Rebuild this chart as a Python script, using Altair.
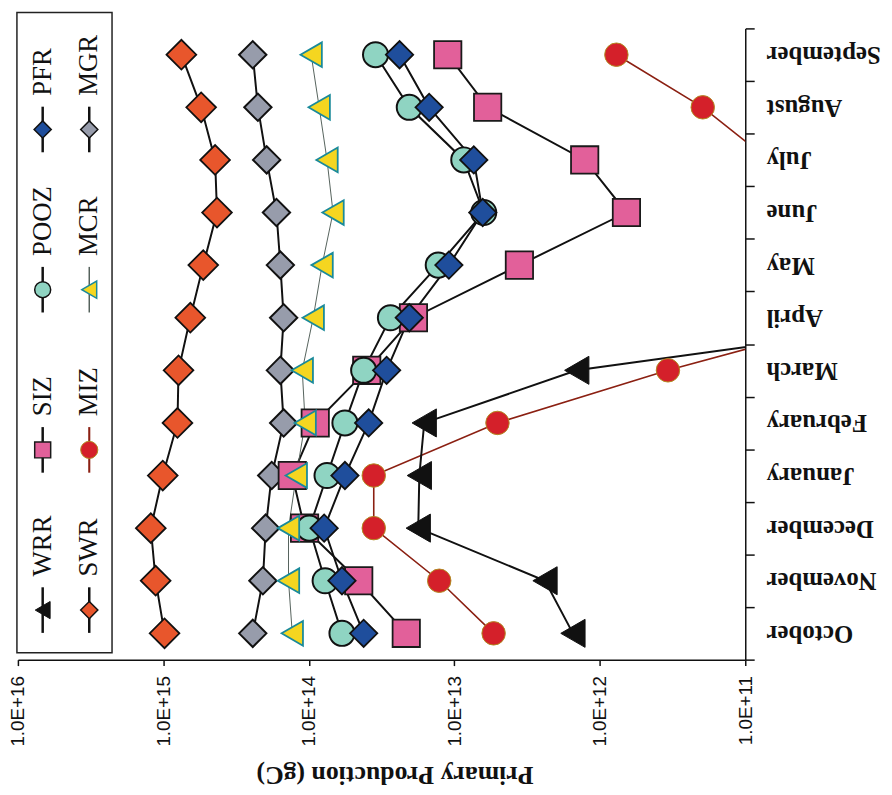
import altair as alt
import pandas as pd

months = ["October", "November", "December", "January", "February", "March",
          "April", "May", "June", "July", "August", "September"]

# Primary production (gC); None = not shown
WRR = [1.53e12, 2.38e12, 1.77e13, 1.74e13, 1.61e13, 1.44e12, 3.5e9, None, None, None, None, None]
SIZ = [2.14e13, 4.54e13, 1.07e14, 1.30e14, 9.04e13, 4.00e13, 1.91e13, 3.57e12, 6.56e11, 1.27e12, 5.90e12, 1.11e13]
POOZ = [5.92e13, 7.73e13, 9.93e13, 7.50e13, 5.65e13, 4.20e13, 2.75e13, 1.29e13, 6.28e12, 8.61e12, 2.04e13, 3.48e13]
PFR = [4.20e13, 5.92e13, 7.85e13, 5.65e13, 3.88e13, 2.92e13, 2.04e13, 1.09e13, 6.38e12, 7.35e12, 1.49e13, 2.38e13]
SWR = [9.82e14, 1.13e15, 1.22e15, 1.01e15, 8.00e14, 7.87e14, 6.53e14, 5.32e14, 4.28e14, 4.41e14, 5.50e14, 7.52e14]
MIZ = [5.37e12, 1.27e13, 3.58e13, 3.58e13, 5.05e12, 3.40e11, 1.6e10, None, None, 6.9e10, 1.96e11, 7.69e11]
MCR = [1.30e14, 1.38e14, 1.38e14, 1.22e14, 1.06e14, 1.11e14, 9.33e13, 8.11e13, 6.82e13, 7.50e13, 8.49e13, 9.64e13]
MGR = [2.43e14, 2.07e14, 1.98e14, 1.80e14, 1.49e14, 1.57e14, 1.49e14, 1.57e14, 1.67e14, 1.95e14, 2.24e14, 2.43e14]

series_names = ["SWR", "MGR", "SIZ", "MIZ", "WRR", "POOZ", "PFR", "MCR"]
series_values = {"WRR": WRR, "SIZ": SIZ, "POOZ": POOZ, "PFR": PFR,
                 "SWR": SWR, "MIZ": MIZ, "MCR": MCR, "MGR": MGR}

# legend layout: (column, row)
legend_col = {"WRR": 0, "SIZ": 0, "POOZ": 0, "PFR": 0,
              "SWR": 1, "MIZ": 1, "MCR": 1, "MGR": 1}
legend_row = {"WRR": 0, "SIZ": 1, "POOZ": 2, "PFR": 3,
              "SWR": 0, "MIZ": 1, "MCR": 2, "MGR": 3}

style = {
    # shape, size, fill, stroke, strokeWidth, line color, line width, legend size
    "WRR": ("triangle-left", 800, "#111111", "#111111", 1, "#111111", 2, 300),
    "SIZ": ("square", 760, "#e2609a", "#1a1a1a", 1.8, "#111111", 2, 260),
    "POOZ": ("circle", 640, "#8fd4c2", "#111111", 2, "#111111", 2, 260),
    "PFR": ("diamond", 760, "#1f4e9c", "#111111", 1.8, "#111111", 2, 300),
    "SWR": ("diamond", 900, "#e8562c", "#111111", 1.8, "#111111", 2, 300),
    "MIZ": ("circle", 560, "#d4202a", "#b08a20", 1, "#8b2012", 1.6, 300),
    "MCR": ("triangle-left", 620, "#f5d620", "#1a8a9a", 1.8, "#55625c", 1, 300),
    "MGR": ("diamond", 760, "#979cab", "#111111", 2, "#111111", 2, 300),
}

rows = []
for name in series_names:
    for i, (m, v) in enumerate(zip(months, series_values[name])):
        rows.append({"series": name, "month": m, "mi": i, "value": v})
df = pd.DataFrame(rows)

leg_df = pd.DataFrame({
    "series": list(legend_col.keys()),
    "col": [legend_col[k] for k in legend_col],
    "row": [legend_row[k] for k in legend_col],
})
legend_box = pd.DataFrame({"x0": [-0.553], "x1": [1.489], "y0": [-0.266], "y1": [3.730]})

x_enc = alt.X(
    "value:Q",
    scale=alt.Scale(type="log", domain=[1e11, 1e16], reverse=True, nice=False),
    axis=alt.Axis(
        values=[1e11, 1e12, 1e13, 1e14, 1e15, 1e16],
        labelExpr="'1.0E+' + round(log(datum.value) / LN10)",
        labelAngle=270, labelFont="Liberation Sans", labelFontSize=19,
        labelColor="#111111", labelPadding=10, tickSize=6, tickColor="#111111",
        domainColor="#111111", domainWidth=1.5, tickWidth=1.5, grid=False,
        title="Primary Production (gC)", titleFont="Liberation Serif",
        titleFontWeight="bold", titleFontSize=26, titleColor="#111111",
        titleAngle=180, titleX=380, titleY=116, titleBaseline="middle",
        titleAlign="center",
    ),
)
y_enc = alt.Y(
    "month:O",
    sort=list(reversed(months)),
    bandPosition=0.5,
    scale=alt.Scale(type="band", paddingInner=0, paddingOuter=0),
    axis=alt.Axis(
        orient="right", title=None, labelAngle=180, labelAlign="right",
        labelBaseline="middle", labelFont="Liberation Serif", labelFontWeight="bold",
        labelFontSize=25, labelColor="#111111", labelPadding=12, tickSize=9,
        tickBand="extent", tickColor="#111111", domainColor="#111111",
        domainWidth=1.5, tickWidth=1.5, grid=False,
    ),
)

base = alt.Chart(df).encode(x=x_enc, y=y_enc, order=alt.Order("mi:Q"))

line_layers = []
point_layers = []
for name in series_names:
    shp, sz, fc, sc, sw, lc, lw, _ = style[name]
    sub = base.transform_filter(alt.datum.series == name)
    line_layers.append(sub.mark_line(color=lc, strokeWidth=lw, clip=True))
    point_layers.append(sub.mark_point(shape=shp, size=sz, filled=True, fill=fc,
                                       stroke=sc, strokeWidth=sw, opacity=1, clip=True))
main = alt.layer(*line_layers, *point_layers)

lx = alt.X("col:Q", scale=alt.Scale(domain=[0, 1], range=[25, 72], nice=False, zero=False), axis=None)
ly = alt.Y("row:Q", scale=alt.Scale(domain=[0, 3], range=[587, 102], nice=False, zero=False), axis=None)

box = alt.Chart(legend_box).mark_rect(fill="white", fillOpacity=0, stroke="#222222", strokeWidth=1.5).encode(
    x=alt.X("x0:Q", scale=alt.Scale(domain=[0, 1], range=[25, 72], nice=False, zero=False), axis=None),
    x2="x1:Q",
    y=alt.Y("y0:Q", scale=alt.Scale(domain=[0, 3], range=[587, 102], nice=False, zero=False), axis=None),
    y2="y1:Q",
)

leg_base = alt.Chart(leg_df).encode(x=lx, y=ly)
leg_layers = [box]
for name in legend_col:
    shp, sz, fc, sc, sw, lc, lw, lsz = style[name]
    sub = leg_base.transform_filter(alt.datum.series == name)
    leg_layers.append(sub.mark_rule(color=lc, strokeWidth=lw + 0.5, yOffset=23, y2Offset=-23).encode(y2="row:Q"))
for name in legend_col:
    shp, sz, fc, sc, sw, lc, lw, lsz = style[name]
    sub = leg_base.transform_filter(alt.datum.series == name)
    leg_layers.append(sub.mark_point(shape=shp, size=lsz, filled=True, fill=fc,
                                     stroke=sc, strokeWidth=min(sw, 1.5), opacity=1))
# dx acts along the rotated text direction: it lifts the label above its symbol
leg_layers.append(leg_base.mark_text(angle=270, align="left", baseline="middle", dx=34,
                                     font="Liberation Serif", fontSize=27, color="#111111")
                  .encode(text="series:N"))
legend = alt.layer(*leg_layers)

chart = (
    alt.layer(main, legend)
    .resolve_scale(x="independent", y="independent")
    .properties(
        width=734, height=637,
        autosize=alt.AutoSizeParams(type="none"),
        padding={"left": 10, "top": 17, "right": 140, "bottom": 133},
        background="white",
    )
    .configure_view(strokeWidth=0)
)

chart.save("out.html", embed_options={"renderer": "svg", "actions": False})
